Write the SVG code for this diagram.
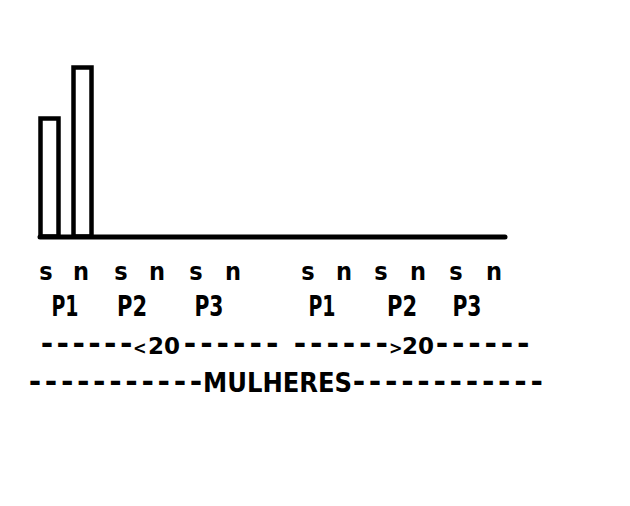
<svg xmlns="http://www.w3.org/2000/svg" width="630" height="506" viewBox="0 0 630 506">
<style>
.bar{fill:none;stroke:#000;stroke-width:4.5}
.axis{stroke:#000;stroke-width:5;stroke-linecap:round}
text{font-family:"DejaVu Sans Condensed","DejaVu Sans",sans-serif;font-weight:bold;fill:#000}
.sn{font-size:25px;text-anchor:middle}
.p{font-size:28px;text-anchor:middle}
.d{font-family:"DejaVu Sans",sans-serif;font-size:30px}
.n{font-family:"DejaVu Sans",sans-serif;font-size:23px}
.lt{font-size:18px}
.m{font-size:27px}
</style>
<rect width="630" height="506" fill="#fff"/>
<g id="bars">
<rect class="bar" x="40.5" y="118.5" width="18" height="118"/>
<rect class="bar" x="73.5" y="67.5" width="18" height="169"/>
</g>
<g id="axis"><line class="axis" x1="40" y1="237" x2="505" y2="237"/></g>
<g id="sn-labels">
<text class="sn" x="46" y="280">s</text>
<text class="sn" x="81" y="280">n</text>
<text class="sn" x="121" y="280">s</text>
<text class="sn" x="157" y="280">n</text>
<text class="sn" x="196" y="280">s</text>
<text class="sn" x="233" y="280">n</text>
<text class="sn" x="308" y="280">s</text>
<text class="sn" x="344" y="280">n</text>
<text class="sn" x="381" y="280">s</text>
<text class="sn" x="418" y="280">n</text>
<text class="sn" x="456" y="280">s</text>
<text class="sn" x="494" y="280">n</text>
</g>
<g id="p-labels">
<text class="p" x="65" y="316" textLength="27" lengthAdjust="spacingAndGlyphs">P1</text>
<text class="p" x="132" y="316" textLength="30" lengthAdjust="spacingAndGlyphs">P2</text>
<text class="p" x="209" y="316" textLength="29" lengthAdjust="spacingAndGlyphs">P3</text>
<text class="p" x="322" y="316" textLength="27" lengthAdjust="spacingAndGlyphs">P1</text>
<text class="p" x="402" y="316" textLength="30" lengthAdjust="spacingAndGlyphs">P2</text>
<text class="p" x="467" y="316" textLength="29" lengthAdjust="spacingAndGlyphs">P3</text>
</g>
<g id="age-under-20">
<text y="354"><tspan class="d" x="40.7" dx="0 3.4 3.4 3.4 3.4 3.4">------</tspan><tspan class="lt" x="133">&lt;</tspan><tspan class="n" x="148">20</tspan><tspan class="d" x="183.7" dx="0 4 4 4 4 4">------</tspan></text>
</g>
<g id="age-over-20">
<text y="354"><tspan class="d" x="293.7" dx="0 3.9 3.9 3.9 3.9 3.9">------</tspan><tspan class="lt" x="389">&gt;</tspan><tspan class="n" x="402">20</tspan><tspan class="d" x="435.7" dx="0 3.8 3.8 3.8 3.8 3.8">------</tspan></text>
</g>
<g id="group-label">
<text y="392"><tspan class="d" x="28.7" dx="0 3.65 3.65 3.65 3.65 3.65 3.65 3.65 3.65 3.65 3.65">-----------</tspan><tspan class="m" x="203">MULHERES</tspan><tspan class="d" x="352.7" dx="0 3.7 3.7 3.7 3.7 3.7 3.7 3.7 3.7 3.7 3.7 3.7">------------</tspan></text>
</g>
</svg>
